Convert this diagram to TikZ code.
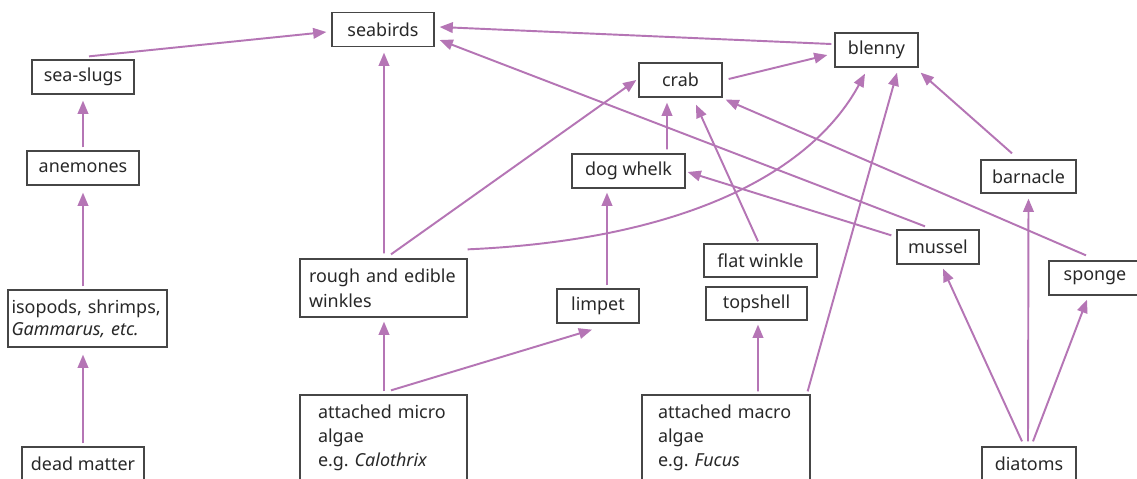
\documentclass[tikz,border=0pt]{standalone}
\usepackage{fontspec}
\setmainfont{Noto Sans}
\usetikzlibrary{arrows.meta}
\definecolor{arrc}{RGB}{181,117,181}
\definecolor{boxc}{RGB}{70,70,70}
\definecolor{txtc}{RGB}{40,40,40}
\frenchspacing
\begin{document}
\begin{tikzpicture}[x=0.02cm,y=-0.02cm,
  font=\fontsize{10.2}{13.3}\selectfont,
  box/.style={draw=boxc,line width=0.75pt,text=txtc,inner sep=0pt,minimum height=0.68cm},
  mbox/.style={box,align=left},
  arr/.style={draw=arrc,line width=1.1pt,-{Triangle[length=7.5pt,width=6pt]}}]
\useasboundingbox (0,0) rectangle (1137,478);
\fill[white] (0,0) rectangle (1137,478);
% nodes
\node[box,minimum width=2.04cm] (seabirds) at (383,29.5) {seabirds};
\node[box,minimum width=2.04cm] (slugs) at (83,77) {sea-slugs};
\node[box,minimum width=2.24cm] (anem) at (83,168) {anemones};
\node[mbox,text width=3.04cm,inner xsep=0.07cm,minimum height=1.14cm,font=\fontsize{10.2}{12.5}\selectfont] (iso) at (87.5,318.5) {isopods, shrimps,\\\textit{Gammarus, etc.}};
\node[box,minimum width=2.44cm] (dead) at (83,464) {dead matter};
\node[mbox,text width=2.98cm,inner xsep=0.18cm,minimum height=1.16cm,font=\fontsize{10.2}{14}\selectfont] (rough) at (383.5,288) {rough and edible\\winkles};
\node[mbox,text width=2.62cm,inner xsep=0.36cm,minimum height=1.72cm,font=\fontsize{10.2}{13.6}\selectfont] (micro) at (383.5,438) {attached micro\\algae\\e.g.\ \textit{Calothrix}};
\node[box,minimum width=1.64cm] (limpet) at (598,306) {limpet};
\node[box,minimum width=2.26cm,minimum height=0.66cm] (flat) at (760.5,260.5) {flat winkle};
\node[box,minimum width=2.02cm,minimum height=0.66cm] (top) at (756.5,303.5) {topshell};
\node[mbox,text width=2.72cm,inner xsep=0.32cm,minimum height=1.72cm,font=\fontsize{10.2}{13.6}\selectfont] (macro) at (726,438) {attached macro\\algae\\e.g.\ \textit{Fucus}};
\node[box,minimum width=1.66cm] (crab) at (680.5,80) {crab};
\node[box,minimum width=2.26cm] (whelk) at (628.5,171) {dog whelk};
\node[box,minimum width=1.66cm] (blenny) at (876.5,50) {blenny};
\node[box,minimum width=1.90cm,minimum height=0.66cm] (barn) at (1028.5,176.5) {barnacle};
\node[box,minimum width=1.64cm] (mussel) at (938,247) {mussel};
\node[box,minimum width=1.84cm] (sponge) at (1095,278) {sponge};
\node[box,minimum width=1.88cm] (diat) at (1029,464) {diatoms};
% connectors
\draw[arr] ([shift={(6,-3)}]slugs.north) -- ([shift={(-5,2.5)}]seabirds.west);
\draw[arr] ([shift={(0,-3)}]anem.north) -- ([shift={(0,6)}]slugs.south);
\draw[arr] ([shift={(-4.5,-3)}]iso.north) -- ([shift={(0,7)}]anem.south);
\draw[arr] ([shift={(0,-3)}]dead.north) -- ([shift={(-4.5,7)}]iso.south);
\draw[arr] ([shift={(0.5,-5)}]rough.north) -- ([shift={(1,5.5)}]seabirds.south);
\draw[arr] ([shift={(7.5,-4)}]rough.north) -- ([shift={(-2,0)}]crab.west);
\draw[arr] ([shift={(0,-9)}]rough.north east) .. controls (680,240) and (810,175) .. ([shift={(-11.5,6)}]blenny.south);
\draw[arr] ([shift={(0.5,-3)}]micro.north) -- ([shift={(0.5,4)}]rough.south);
\draw[arr] ([shift={(7.5,-4)}]micro.north) -- ([shift={(-6,6)}]limpet.south);
\draw[arr] ([shift={(9,-3)}]limpet.north) -- ([shift={(-21.5,4)}]whelk.south);
\draw[arr] ([shift={(38.5,-4)}]whelk.north) -- ([shift={(-13.5,5)}]crab.south);
\draw[arr] ([shift={(-2.5,-2)}]flat.north) -- ([shift={(15.5,7)}]crab.south);
\draw[arr] ([shift={(6,-1)}]crab.east) -- ([shift={(-7,5)}]blenny.west);
\draw[arr] ([shift={(-3,-6)}]blenny.west) -- ([shift={(5,-2.5)}]seabirds.east);
\draw[arr] ([shift={(-13,-3)}]mussel.north) -- ([shift={(5,10.5)}]seabirds.east);
\draw[arr] ([shift={(-5,6)}]mussel.north west) -- ([shift={(2,1)}]whelk.east);
\draw[arr] ([shift={(-3,-3)}]macro.north east) -- ([shift={(20.5,5)}]blenny.south);
\draw[arr] ([shift={(32,-3)}]macro.north) -- ([shift={(1.5,4)}]top.south);
\draw[arr] ([shift={(-16.5,-6)}]barn.north) -- ([shift={(2,5)}]blenny.south east);
\draw[arr] ([shift={(-1,-5)}]diat.north) -- ([shift={(0,5)}]barn.south);
\draw[arr] ([shift={(-7,-5)}]diat.north) -- ([shift={(5,4)}]mussel.south);
\draw[arr] ([shift={(4,-5)}]diat.north) -- ([shift={(-8,4)}]sponge.south);
\draw[arr] ([shift={(-9,-5)}]sponge.north) -- ([shift={(3,2)}]crab.south east);
\end{tikzpicture}
\end{document}
